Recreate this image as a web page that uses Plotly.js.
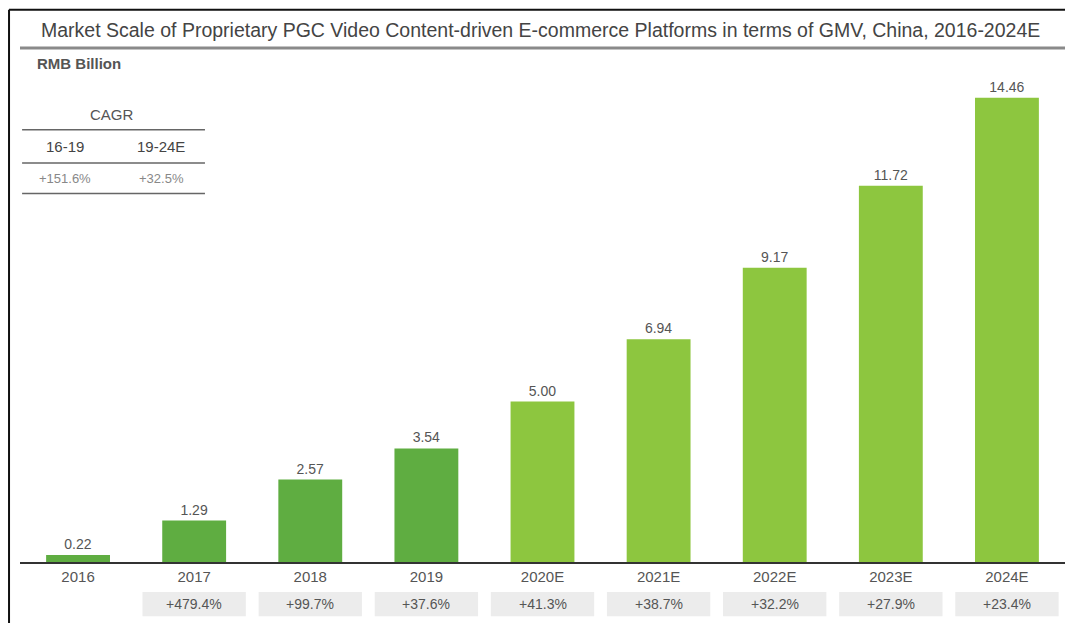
<!DOCTYPE html>
<html>
<head>
<meta charset="utf-8">
<script src="https://cdn.plot.ly/plotly-3.0.1.min.js"></script>
<style>html,body{margin:0;padding:0;background:#fff;}#chart{width:1065px;height:623px;}</style>
</head>
<body>
<div id="chart"></div>
<script>
const categories = ["2016","2017","2018","2019","2020E","2021E","2022E","2023E","2024E"];
const gmv = [0.22, 1.29, 2.57, 3.54, 5.00, 6.94, 9.17, 11.72, 14.46];
const valueLabels = ["0.22","1.29","2.57","3.54","5.00","6.94","9.17","11.72","14.46"];
const growthLabels = ["", "+479.4%", "+99.7%", "+37.6%", "+41.3%", "+38.7%", "+32.2%", "+27.9%", "+23.4%"];
const cagrPeriods = ["16-19", "19-24E"];
const cagrValues = ["+151.6%", "+32.5%"];
const actualColor = "#5fad41";
const forecastColor = "#8dc63f";

const FONT = "Liberation Sans, Arial, sans-serif";
const colors = categories.map(c => c.endsWith("E") ? forecastColor : actualColor);

const trace = {
  type: "bar",
  x: categories,
  y: gmv,
  width: 0.55,
  marker: {color: colors},
  text: valueLabels,
  textposition: "outside",
  cliponaxis: false,
  textfont: {family: FONT, size: 14, color: "#555"},
  hoverinfo: "x+y"
};

const shapes = [
  // outer frame lines
  {type: "line", xref: "paper", yref: "paper", x0: -0.0105, x1: 1.02, y0: 1.1, y1: 1.1, line: {color: "#111", width: 2}},
  {type: "line", xref: "paper", yref: "paper", x0: -0.0105, x1: -0.0105, y0: 1.1, y1: -0.2, line: {color: "#111", width: 2}},
  // title underline
  {type: "line", xref: "paper", yref: "paper", x0: 0.0, x1: 1.02, y0: 1.024, y1: 1.024, line: {color: "#8a8a8a", width: 3}},
  // CAGR table lines
  {type: "line", xref: "paper", yref: "paper", x0: 0.002, x1: 0.177, y0: 0.861, y1: 0.861, line: {color: "#666", width: 1.5}},
  {type: "line", xref: "paper", yref: "paper", x0: 0.002, x1: 0.177, y0: 0.795, y1: 0.795, line: {color: "#666", width: 1.5}},
  {type: "line", xref: "paper", yref: "paper", x0: 0.002, x1: 0.177, y0: 0.734, y1: 0.734, line: {color: "#666", width: 1.5}}
];

const annotations = [
  {text: "Market Scale of Proprietary PGC Video Content-driven E-commerce Platforms in terms of GMV, China, 2016-2024E",
   xref: "paper", yref: "paper", x: 0.498, y: 1.06, showarrow: false, xanchor: "center", yanchor: "middle",
   font: {family: FONT, size: 19.5, color: "#444"}},
  {text: "<b>RMB Billion</b>", xref: "paper", yref: "paper", x: 0.0144, y: 0.994, showarrow: false,
   xanchor: "left", yanchor: "middle", font: {family: FONT, size: 15, color: "#555"}},
  {text: "CAGR", xref: "paper", yref: "paper", x: 0.088, y: 0.892, showarrow: false,
   xanchor: "center", yanchor: "middle", font: {family: FONT, size: 15, color: "#555"}}
];

const cagrX = [0.043, 0.135];
cagrPeriods.forEach((p, i) => {
  annotations.push({text: p, xref: "paper", yref: "paper", x: cagrX[i], y: 0.828, showarrow: false,
    xanchor: "center", yanchor: "middle", font: {family: FONT, size: 15, color: "#444"}});
  annotations.push({text: cagrValues[i], xref: "paper", yref: "paper", x: cagrX[i], y: 0.764, showarrow: false,
    xanchor: "center", yanchor: "middle", font: {family: FONT, size: 13, color: "#888"}});
});

categories.forEach((c, i) => {
  if (!growthLabels[i]) return;
  shapes.push({type: "rect", xref: "x", yref: "paper", x0: i - 0.445, x1: i + 0.445, y0: -0.060, y1: -0.108,
    fillcolor: "#ececec", line: {width: 0}, layer: "below"});
  annotations.push({text: growthLabels[i], xref: "x", yref: "paper", x: i, y: -0.084, showarrow: false,
    xanchor: "center", yanchor: "middle", font: {family: FONT, size: 14, color: "#555"}});
});

const layout = {
  width: 1065, height: 623,
  margin: {l: 20, r: 0, t: 60, b: 61},
  paper_bgcolor: "#fff", plot_bgcolor: "#fff",
  showlegend: false,
  bargap: 0.45,
  xaxis: {
    type: "category", range: [-0.5, 8.5],
    showline: true, linecolor: "#333", linewidth: 1.5,
    showgrid: false, ticks: "", zeroline: false,
    tickfont: {family: FONT, size: 15, color: "#555"}
  },
  yaxis: {
    range: [0, 15.64], visible: false, showgrid: false, zeroline: false, fixedrange: true
  },
  shapes: shapes,
  annotations: annotations
};

Plotly.newPlot("chart", [trace], layout, {displayModeBar: false, staticPlot: true});
</script>
</body>
</html>
